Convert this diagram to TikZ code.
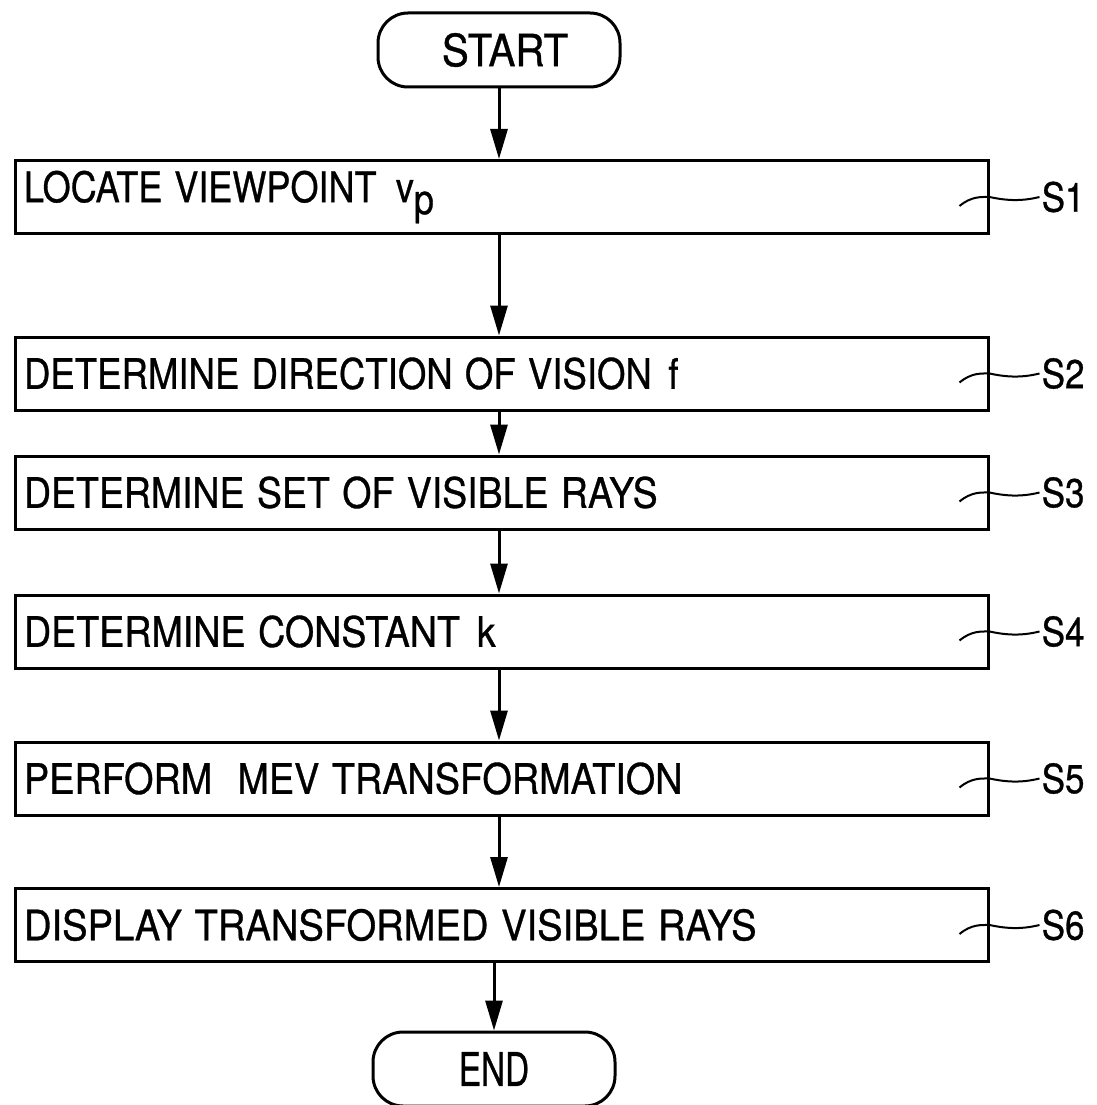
\documentclass[tikz,border=0pt]{standalone}
\usepackage{fontspec}
\setmainfont{TeX Gyre Heros}[FakeBold=0.8]
\usetikzlibrary{arrows.meta,calc}
\newcommand\sx[2]{\scalebox{#1}[1.2]{#2}}
\begin{document}
\begin{tikzpicture}[x=1pt,y=-1pt,
  every node/.style={font=\fontsize{35}{40}\selectfont},
  stepbox/.style={draw,line width=3pt,minimum width=973pt,minimum height=73pt,
    text width=955pt,align=left,inner xsep=9pt,inner ysep=0pt,anchor=center},
  term/.style={draw,line width=3pt,rounded corners=30pt,minimum width=242pt,
    minimum height=74pt,inner sep=0pt,font=\fontsize{37}{42}\selectfont},
  flow/.style={line width=3pt,-{Triangle[length=30pt,width=17pt]}},
  tag/.style={anchor=west,inner sep=2pt},
  squig/.style={line width=2pt}]
\useasboundingbox (0,0) rectangle (1096,1105);
\node[term] (start) at (499,50) {\hspace{12pt}\sx{1.09}{START}};
\node[stepbox] (b1) at (501.5,197) {\sx{1.03}{LOCATE VIEWPOINT}\hspace{0.55em}\sx{1.03}{v\raisebox{-10pt}{p}}};
\node[stepbox] (b2) at (501.5,373.5) {\sx{1.045}{DETERMINE DIRECTION OF VISION\hspace{0.45em}f}};
\node[stepbox] (b3) at (501.5,492.5) {\sx{1.07}{DETERMINE SET OF VISIBLE RAYS}};
\node[stepbox] (b4) at (501.5,631.5) {\sx{1.075}{DETERMINE CONSTANT\hspace{0.45em}k}};
\node[stepbox] (b5) at (501.5,778.5) {\sx{1.08}{PERFORM\ \ MEV TRANSFORMATION}};
\node[stepbox] (b6) at (501.5,925) {\sx{1.09}{DISPLAY TRANSFORMED VISIBLE RAYS}};
\node[term] (end) at (494,1069) {\scalebox{0.9}[1.25]{END}};
\draw[flow] (start.south) -- (start.south |- b1.north);
\draw[flow] (b1.south -| start.south) -- (start.south |- b2.north);
\draw[flow] (b2.south -| start.south) -- (start.south |- b3.north);
\draw[flow] (b3.south -| start.south) -- (start.south |- b4.north);
\draw[flow] (b4.south -| start.south) -- (start.south |- b5.north);
\draw[flow] (b5.south -| start.south) -- (start.south |- b6.north);
\draw[flow] (b6.south -| end.north) -- (end.north);
\foreach \b/\t in {b1/S1,b2/S2,b3/S3,b4/S4,b5/S5,b6/S6}{
  \node[tag] (l\b) at ($(\b.east)+(50,0)$) {\scalebox{1}[1.15]{\t}};
  \draw[squig] ($(\b.east)+(-30,9)$) .. controls ($(\b.east)+(-18,-1)$) and ($(\b.east)+(-8,0)$) ..
    (\b.east) .. controls ($(\b.east)+(14,3)$) and ($(\b.east)+(30,5)$) .. (l\b.west);
}
\end{tikzpicture}
\end{document}
